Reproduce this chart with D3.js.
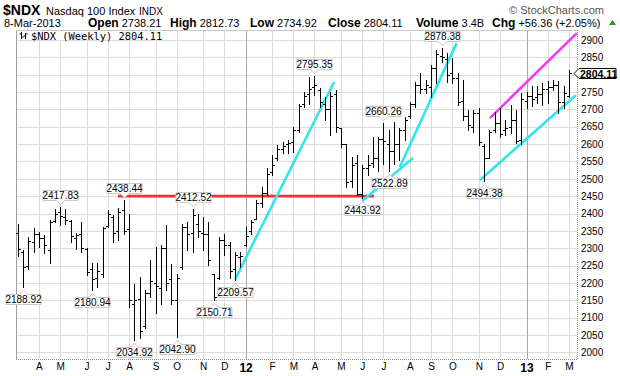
<!DOCTYPE html>
<html>
<head>
<meta charset="utf-8">
<style>
    body { margin: 0; background: #fff; }
    text { font-family: "Liberation Sans", Arial, sans-serif; }
</style>
</head>
<body>
<svg id="chart" width="620" height="376"></svg>
<script src="https://cdn.jsdelivr.net/npm/d3@7/dist/d3.min.js"></script>
<script>
    // weekly OHLC, week of 7-Mar-2011 .. week of 4-Mar-2013
    let opens = [2345, 2289, 2250, 2318, 2340, 2330, 2295, 2378, 2405, 2390,
        2378, 2330, 2340, 2298, 2240, 2215, 2225, 2365, 2390, 2350,
        2410, 2355, 2140, 2155, 2075, 2172, 2200, 2185, 2300, 2210,
        2150, 2245, 2360, 2345, 2370, 2345, 2340, 2225, 2215, 2325,
        2310, 2240, 2275, 2310, 2350, 2385, 2430, 2460, 2520, 2560,
        2585, 2600, 2605, 2640, 2715, 2745, 2765, 2755, 2715, 2700,
        2745, 2645, 2600, 2495, 2545, 2455, 2530, 2545, 2560, 2615,
        2600, 2580, 2600, 2640, 2680, 2715, 2770, 2760, 2765, 2820,
        2855, 2845, 2805, 2790, 2725, 2680, 2650, 2690, 2595, 2560,
        2640, 2660, 2640, 2650, 2670, 2612, 2725, 2740, 2735, 2745,
        2760, 2765, 2770, 2722, 2738.21]
    let highs = [2371, 2296, 2332, 2357, 2347, 2338, 2381, 2414, 2417.83, 2412,
        2380, 2345, 2376, 2300, 2258, 2256, 2362, 2410, 2395, 2415,
        2438.44, 2400, 2198, 2217, 2179, 2265, 2304, 2309, 2367, 2255,
        2227, 2371, 2375, 2412.52, 2400, 2390, 2376, 2227, 2333, 2342,
        2318, 2289, 2289, 2362, 2381, 2439, 2477, 2530, 2568, 2597,
        2607, 2612, 2650, 2717, 2751, 2794, 2795.35, 2761, 2737, 2751,
        2756, 2645, 2600, 2563, 2568, 2540, 2570, 2620, 2620, 2660.26,
        2640, 2665, 2645, 2679, 2722, 2780, 2804, 2785, 2828, 2871,
        2878.38, 2862, 2847, 2804, 2785, 2698, 2698, 2703, 2600, 2640,
        2693, 2703, 2669, 2713, 2698, 2746, 2751, 2766, 2766, 2776,
        2781, 2786, 2781, 2767, 2812.73]
    let lows = [2277, 2188.92, 2240, 2290, 2304, 2285, 2257, 2376, 2366, 2370,
        2318, 2299, 2290, 2222, 2180.94, 2189, 2217, 2362, 2319, 2323,
        2342, 2131, 2034.92, 2040, 2070, 2159, 2112, 2140, 2179, 2140,
        2042.90, 2241, 2295, 2289, 2333, 2294, 2251, 2150.71, 2210, 2280,
        2215, 2209.57, 2246, 2305, 2342, 2384, 2419, 2453, 2511, 2554,
        2573, 2573, 2578, 2636, 2708, 2717, 2741, 2708, 2669, 2626,
        2636, 2592, 2477, 2477, 2452, 2443.92, 2510, 2535, 2523, 2544,
        2522.89, 2544, 2554, 2612, 2674, 2708, 2746, 2746, 2737, 2775,
        2838, 2780, 2775, 2713, 2669, 2640, 2636, 2597, 2494.38, 2559,
        2636, 2621, 2626, 2631, 2602, 2600, 2703, 2709, 2718, 2714,
        2718, 2757, 2690, 2705, 2734.92]
    let closes = [2298, 2245, 2322, 2340, 2330, 2310, 2376, 2400, 2392, 2380,
        2335, 2338, 2300, 2232, 2210, 2235, 2358, 2400, 2345, 2405,
        2350, 2150, 2150, 2060, 2170, 2205, 2190, 2300, 2200, 2150,
        2215, 2360, 2340, 2395, 2350, 2340, 2265, 2160, 2325, 2310,
        2235, 2280, 2277, 2335, 2375, 2430, 2460, 2515, 2540, 2585,
        2595, 2603, 2640, 2710, 2740, 2760, 2770, 2720, 2700, 2740,
        2650, 2600, 2490, 2540, 2455, 2530, 2540, 2560, 2615, 2610,
        2580, 2600, 2640, 2670, 2715, 2770, 2760, 2770, 2820, 2860,
        2850, 2800, 2790, 2720, 2680, 2655, 2690, 2605, 2560, 2635,
        2660, 2630, 2645, 2670, 2610, 2730, 2740, 2730, 2745, 2760,
        2765, 2770, 2720, 2747.75, 2804.11]

    // labelled highs / lows: [week index, value, side]
    let callouts = [[1, 2188.92, "low"], [8, 2417.83, "high"], [14, 2180.94, "low"],
        [20, 2438.44, "high"], [22, 2034.92, "low"], [30, 2042.90, "low"],
        [33, 2412.52, "high"], [37, 2150.71, "low"], [41, 2209.57, "low"],
        [56, 2795.35, "high"], [65, 2443.92, "low"], [69, 2660.26, "high"],
        [70, 2522.89, "low"], [80, 2878.38, "high"], [88, 2494.38, "low"]]

    // drawn trend lines: [[index, value], [index, value]], colour
    let trendLines = [
        [[18.9, 2450], [67.2, 2450], "#f03030"],
        [[41, 2209.57], [59.7, 2779], "#2ee6f2"],
        [[65, 2436], [74.6, 2560], "#2ee6f2"],
        [[72.1, 2534], [82.8, 2891], "#2ee6f2"],
        [[87.2, 2496], [105.3, 2741], "#2ee6f2"],
        [[89.1, 2675], [105.5, 2920], "#f03cf0"]]

    let yTicks = [2000, 2050, 2100, 2150, 2200, 2250, 2300, 2350, 2400, 2450,
        2500, 2550, 2600, 2650, 2700, 2750, 2800, 2850, 2900]
    let monthLetters = ["J", "F", "M", "A", "M", "J", "J", "A", "S", "O", "N", "D"]

    let lastClose = 2804.11
    let header = [["Open", "2738.21", 88], ["High", "2812.73", 170], ["Low", "2734.92", 250],
        ["Close", "2804.11", 328], ["Volume", "3.4B", 416], ["Chg", "+56.36 (+2.05%)", 492]]

    let svg = d3.select("#chart")
    let pLeft = 16, pRight = 577, pTop = 30, pBottom = 359

    let weeks = d3.timeMonday.range(new Date(2011, 2, 7), new Date(2013, 2, 5))
    let x = d3.scaleLinear().domain([0, weeks.length - 1]).range([17.7, 568.9])
    let y = d3.scaleLinear().domain([2000, 2900]).range([352.3, 40])

    let monthTicks = weeks.map((d, i) => i)
        .filter(i => i > 0 && weeks[i].getMonth() != weeks[i - 1].getMonth())

    // grid
    let grid = svg.append("g")
    grid.selectAll(".hg").data(yTicks).enter().append("line")
        .attr("x1", pLeft).attr("x2", pRight)
        .attr("y1", d => Math.round(y(d)) + 0.5).attr("y2", d => Math.round(y(d)) + 0.5)
        .attr("stroke", "#dcdcdc")
    grid.selectAll(".vg").data(monthTicks).enter().append("line")
        .attr("x1", d => Math.round(x(d)) + 0.5).attr("x2", d => Math.round(x(d)) + 0.5)
        .attr("y1", pTop).attr("y2", pBottom)
        .attr("stroke", d => weeks[d].getMonth() == 0 ? "#a8a8a8" : "#dcdcdc")

    // frame
    svg.append("line").attr("x1", pLeft + 0.5).attr("x2", pLeft + 0.5).attr("y1", pTop).attr("y2", pBottom)
        .attr("stroke", "#a0a0a0")
    svg.append("line").attr("x1", pLeft).attr("x2", pRight).attr("y1", pTop + 0.5).attr("y2", pTop + 0.5)
        .attr("stroke", "#c8c8c8")
    svg.append("line").attr("x1", pRight + 0.5).attr("x2", pRight + 0.5).attr("y1", pTop).attr("y2", pBottom)
        .attr("stroke", "#909090").attr("stroke-dasharray", "1,1")
    svg.append("line").attr("x1", pLeft).attr("x2", pRight).attr("y1", pBottom + 0.5).attr("y2", pBottom + 0.5)
        .attr("stroke", "#909090").attr("stroke-dasharray", "1,1")

    // legend
    let lg = svg.append("g")
    lg.append("rect").attr("x", 18).attr("y", 31).attr("width", 148).attr("height", 9).attr("fill", "#fff")
    lg.append("path").attr("d", "M21.5,32v7M19.5,34h2M21.5,37h2M25.5,33v6M23.5,36h2M25.5,34h2")
        .attr("stroke", "#000").attr("fill", "none")
    lg.append("text").attr("x", 31).attr("y", 39.5)
        .style("font-family", "'DejaVu Sans Mono', monospace").style("font-size", "10.4px")
        .text("$NDX (Weekly) 2804.11")

    // trend lines
    let plot = svg.append("g")
    plot.selectAll(".tl").data(trendLines).enter().append("line")
        .attr("x1", d => x(d[0][0])).attr("y1", d => y(d[0][1]))
        .attr("x2", d => x(d[1][0])).attr("y2", d => y(d[1][1]))
        .attr("stroke", d => d[2]).attr("stroke-width", 2.6)

    // ohlc bars
    let bars = plot.selectAll(".bar").data(weeks).enter().append("g")
        .attr("transform", (d, i) => `translate(${Math.round(x(i)) + 0.5},0)`)
    bars.append("line").attr("y1", (d, i) => Math.round(y(highs[i])))
        .attr("y2", (d, i) => Math.round(y(lows[i])) + 1).attr("stroke", "#000")
    bars.append("line").attr("x1", -2.5).attr("x2", 0)
        .attr("y1", (d, i) => Math.round(y(opens[i])) + 0.5).attr("y2", (d, i) => Math.round(y(opens[i])) + 0.5)
        .attr("stroke", "#000")
    bars.append("line").attr("x1", 0).attr("x2", 2.5)
        .attr("y1", (d, i) => Math.round(y(closes[i])) + 0.5).attr("y2", (d, i) => Math.round(y(closes[i])) + 0.5)
        .attr("stroke", "#000")

    // callouts
    let co = plot.selectAll(".co").data(callouts).enter().append("g")
        .attr("transform", d => {
            let cx = Math.round(x(d[0])) + 0.5
            let cy = d[2] == "high" ? Math.round(y(d[1])) - 6 : Math.round(y(d[1])) + 7
            return `translate(${cx},${cy})`
        })
    co.append("path")
        .attr("d", d => d[2] == "high"
            ? "M-17.5,-10.5h35v10h-13l-4.5,4l-4.5,-4h-13z"
            : "M-17.5,0.5h13l4.5,-4l4.5,4h13v10h-35z")
        .attr("fill", "#fff").attr("stroke", "#c8c8c8")
    co.append("text").attr("text-anchor", "middle")
        .attr("y", d => d[2] == "high" ? -2 : 9)
        .style("font-size", "10px")
        .text(d => d3.format(".2f")(d[1]))

    // y axis (the last-price tag hides the 2800 label)
    let yAxis = svg.append("g").attr("transform", `translate(${pRight},0)`)
        .call(d3.axisRight(y).tickValues(yTicks.filter(v => Math.abs(v - lastClose) > 20))
            .tickSize(0).tickPadding(4).tickFormat(d3.format("d")))
    yAxis.select(".domain").remove()
    yAxis.selectAll("text").style("font-family", "'Liberation Sans', Arial, sans-serif")
        .style("font-size", "10px").attr("fill", "#000")

    // last price tag
    let tag = svg.append("g").attr("transform", `translate(${pRight - 3},${Math.round(y(lastClose)) + 0.5})`)
    tag.append("path").attr("d", "M0,0l5,-5h37v10h-37z").attr("fill", "#fff").attr("stroke", "#000")
    tag.append("text").attr("x", 6).attr("y", 4).style("font-size", "10.5px").style("font-weight", "bold")
        .text(d3.format(".2f")(lastClose))

    // x axis
    let xAxis = svg.append("g").attr("transform", `translate(0,${pBottom})`)
        .call(d3.axisBottom(x).tickValues(monthTicks).tickSize(0).tickPadding(4)
            .tickFormat(i => weeks[i].getMonth() == 0
                ? d3.timeFormat("%y")(weeks[i]) : monthLetters[weeks[i].getMonth()]))
    xAxis.select(".domain").remove()
    xAxis.selectAll("text").style("font-family", "'Liberation Sans', Arial, sans-serif")
        .style("font-size", "10px").attr("fill", "#000")
        .filter(i => weeks[i].getMonth() == 0)
        .style("font-weight", "bold").style("font-size", "12px")

    // header
    svg.append("text").attr("x", 3).attr("y", 15).style("font-size", "14px").style("font-weight", "bold")
        .text("$NDX")
    svg.append("text").attr("x", 46).attr("y", 15).style("font-size", "11px").text("Nasdaq 100 Index")
    svg.append("text").attr("x", 139).attr("y", 15).style("font-size", "10px").text("INDX")
    svg.append("text").attr("x", 604).attr("y", 14).attr("text-anchor", "end")
        .style("font-size", "11px").attr("fill", "#555").text("\u00a9 StockCharts.com")
    svg.append("text").attr("x", 4).attr("y", 27).style("font-size", "11px").text("8-Mar-2013")
    let hd = svg.append("text").attr("y", 27).style("font-size", "12px")
    header.forEach(h => {
        hd.append("tspan").attr("x", h[2]).style("font-weight", "bold").text(h[0])
        hd.append("tspan").style("font-size", "11px").text("\u00a0" + h[1])
    })
    svg.append("path").attr("d", "M609,25l3.5,-5l3.5,5z").attr("fill", "#2a9a2a")
</script>
</body>
</html>
